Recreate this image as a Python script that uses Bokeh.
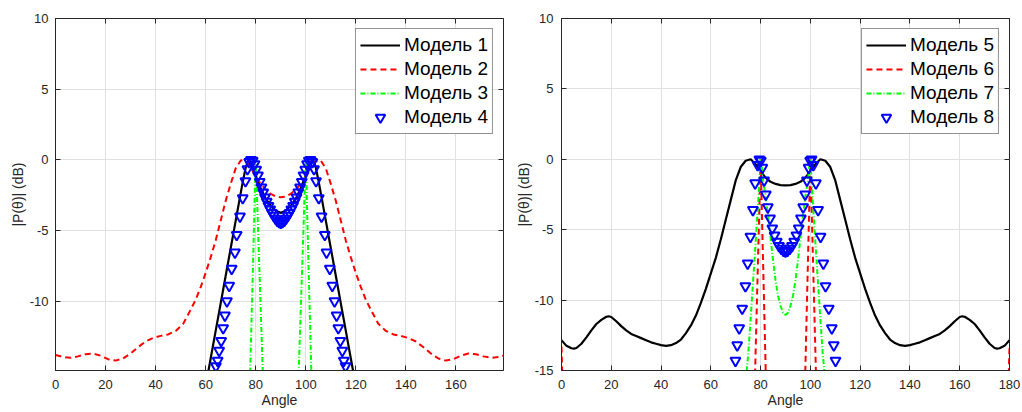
from bokeh.plotting import figure
from bokeh.layouts import row
from bokeh.models import FixedTicker, LinearAxis, Range1d, CustomJSTickFormatter
from bokeh.embed import file_html
from bokeh.resources import INLINE

FONT = "Liberation Sans"
AX = "#262626"

# ---------------- left panel data ----------------
m1_ang = [59, 60, 62, 64, 66, 68, 70, 72, 74, 75, 76, 77, 78, 79, 80, 82, 84, 86, 88, 90,
          92, 94, 96, 98, 100, 101, 102, 103, 104, 105, 106, 108, 110, 112, 114, 116, 118, 120, 121]
m1_db = [-17.0, -16.0, -14.05, -12.1, -10.15, -8.2, -6.25, -4.3, -2.35, -1.4, -0.55, -0.05, -0.15, -0.6,
         -1.1, -2.0, -2.75, -3.25, -3.6, -3.75, -3.6, -3.25, -2.75, -2.0, -1.1, -0.6, -0.15, -0.05,
         -0.55, -1.4, -2.35, -4.3, -6.25, -8.2, -10.15, -12.1, -14.05, -16.0, -17.0]

m2_ang = [0, 3, 6, 9, 12, 15, 18, 21, 24, 27, 30, 33, 36, 39, 42, 45, 48, 51,
          54, 56, 58, 60, 62, 64, 66, 68, 70, 72, 74, 75, 76, 78, 80, 82, 84, 86, 88,
          90,
          92, 94, 96, 98, 100, 102, 104, 105, 106, 108, 110, 112, 114, 116, 118, 120, 122, 124, 126,
          129, 132, 135, 138, 141, 144, 147, 150, 153, 156, 159, 162, 165, 168, 171, 174, 177, 180]
m2_db = [-13.8, -13.95, -14.0, -13.9, -13.75, -13.7, -13.85, -14.1, -14.2, -14.05, -13.7, -13.25,
         -12.85, -12.6, -12.45, -12.35, -12.1, -11.6,
         -10.6, -9.9, -9.0, -8.0, -6.9, -5.7, -4.3, -2.9, -1.7, -0.6, -0.05, 0.0, -0.1, -0.55,
         -1.15, -1.7, -2.1, -2.4, -2.6,
         -2.65,
         -2.6, -2.4, -2.1, -1.7, -1.15, -0.55, -0.1, 0.0, -0.05, -0.6, -1.7, -2.9, -4.3, -5.7,
         -6.9, -8.0, -9.0, -9.9, -10.6,
         -11.6, -12.1, -12.35, -12.45, -12.6, -12.85, -13.25, -13.7, -14.05, -14.2, -14.1, -13.85,
         -13.7, -13.75, -13.9, -14.0, -13.95, -13.8]

m3_ang = [77.0, 77.8, 78.3, 78.8, 79.3, 79.7, 80.0, 80.3, 80.8, 81.3, 81.8, 82.3, 82.9, 83.5, 90.0,
          96.5, 97.1, 97.7, 98.2, 98.7, 99.2, 99.7, 100.0, 100.3, 100.7, 101.2, 101.7, 102.2, 103.0]
m3_db = [-20.0, -14.9, -11.5, -8.2, -4.8, -1.8, 0.0, -1.3, -4.2, -6.9, -9.5, -12.2, -15.4, -18.5, -40.0,
         -18.5, -15.4, -12.2, -9.5, -6.9, -4.2, -1.3, 0.0, -1.8, -4.8, -8.2, -11.5, -14.9, -20.0]

m4_ang = [64.1, 64.8, 65.4, 66.2, 67.0, 67.7, 68.5, 69.4, 70.4, 71.7, 72.4, 73.7, 74.8, 75.9,
          76.7, 77.4, 78.1, 78.8, 79.5, 80.2, 80.9, 81.6, 82.3, 83.0, 83.7, 84.4, 85.1, 85.8, 86.5,
          87.2, 87.9, 88.6, 89.3, 90.0, 90.7, 91.4, 92.1, 92.8, 93.5, 94.2, 94.9, 95.6, 96.3, 97.0,
          97.7, 98.4, 99.1, 99.8, 100.5, 101.2, 101.9, 102.6, 103.3,
          104.1, 105.2, 106.3, 107.6, 108.3, 109.6, 110.6, 111.5, 112.3, 113.0, 113.8, 114.6, 115.2, 115.9]
m4_db = [-14.6, -14.2, -13.5, -12.8, -11.9, -11.0, -10.0, -8.9, -7.7, -6.55, -5.3, -4.0, -2.7, -1.5,
         -0.65, -0.15, 0.0, -0.05, -0.3, -0.7, -1.1, -1.55, -1.95, -2.3, -2.65, -2.95, -3.25, -3.5,
         -3.75, -3.95, -4.15, -4.3, -4.4, -4.45, -4.4, -4.3, -4.15, -3.95, -3.75, -3.5, -3.25, -2.95,
         -2.65, -2.3, -1.95, -1.55, -1.1, -0.7, -0.3, -0.05, 0.0, -0.15, -0.65,
         -1.5, -2.7, -4.0, -5.3, -6.55, -7.7, -8.9, -10.0, -11.0, -11.9, -12.8, -13.5, -14.2, -14.6]

# ---------------- right panel data ----------------
m5_ang = [0, 2, 4, 5, 6, 8, 10, 12, 14, 16, 18, 19, 20, 22, 24, 26, 28, 30, 32, 34, 36, 38, 40, 42,
          44, 46, 48, 50, 52, 54, 56, 58, 60, 62, 64, 66, 68, 70, 72, 74, 76, 78, 80, 82, 84, 86, 88,
          90,
          92, 94, 96, 98, 100, 102, 104, 106, 108, 110, 112, 114, 116, 118, 120, 122, 124, 126, 128,
          130, 132, 134, 136, 138, 140, 142, 144, 146, 148, 150, 152, 154, 156, 158, 160, 161, 162,
          164, 166, 168, 170, 172, 174, 175, 176, 178, 180]
m5_db = [-12.85, -13.25, -13.42, -13.45, -13.4, -13.1, -12.65, -12.15, -11.7, -11.4, -11.18, -11.15,
         -11.2, -11.5, -11.85, -12.15, -12.4, -12.55, -12.7, -12.85, -13.0, -13.1, -13.2, -13.25,
         -13.2, -13.05, -12.8, -12.35, -11.8, -11.1, -10.2, -9.2, -8.1, -7.0, -5.7, -4.3, -2.9, -1.5,
         -0.55, -0.1, 0.0, -0.35, -0.85, -1.3, -1.6, -1.75, -1.83,
         -1.85,
         -1.83, -1.75, -1.6, -1.3, -0.85, -0.35, 0.0, -0.1, -0.55, -1.5, -2.9, -4.3, -5.7, -7.0,
         -8.1, -9.2, -10.2, -11.1, -11.8, -12.35, -12.8, -13.05, -13.2, -13.25, -13.2, -13.1, -13.0,
         -12.85, -12.7, -12.55, -12.4, -12.15, -11.85, -11.5, -11.2, -11.15, -11.18, -11.4, -11.7,
         -12.15, -12.65, -13.1, -13.4, -13.45, -13.42, -13.25, -12.85]

m6_ang = [0.0, 0.4, 1.0, 40.0, 77.0, 77.8, 78.5, 79.2, 79.7, 80.0, 80.3, 80.8, 81.4, 82.0, 82.6, 90.0,
          97.4, 98.0, 98.6, 99.2, 99.7, 100.0, 100.3, 100.8, 101.5, 102.2, 103.0, 140.0, 179.0, 179.6, 180.0]
m6_db = [-13.3, -16.0, -20.0, -30.0, -20.0, -15.0, -10.2, -5.5, -2.0, 0.0, -2.2, -5.9, -10.3, -14.7,
         -19.0, -30.0, -19.0, -14.7, -10.3, -5.9, -2.2, 0.0, -2.0, -5.5, -10.2, -15.0, -20.0, -30.0,
         -20.0, -16.0, -13.3]

m7_ang = [72.0, 74.4, 75.0, 76.0, 77.0, 78.0, 79.0, 79.5, 80.0, 80.5, 81.0, 82.0, 83.0, 84.0, 85.0,
          86.0, 87.0, 88.0, 89.0, 90.0, 91.0, 92.0, 93.0, 94.0, 95.0, 96.0, 97.0, 98.0, 99.0, 99.5,
          100.0, 100.5, 101.0, 102.0, 103.0, 104.0, 105.0, 105.6, 108.0]
m7_db = [-25.0, -15.0, -13.9, -11.3, -8.6, -5.9, -3.1, -1.5, 0.0, -0.6, -1.5, -2.6, -4.0, -5.6, -7.2,
         -8.6, -9.7, -10.4, -10.9, -11.05, -10.9, -10.4, -9.7, -8.6, -7.2, -5.6, -4.0, -2.6, -1.5,
         -0.6, 0.0, -1.5, -3.1, -5.9, -8.6, -11.3, -13.9, -15.0, -25.0]

m8_ang = [69.9, 70.6, 71.4, 72.6, 73.9, 74.8, 75.9, 76.9, 77.8, 78.8, 79.5, 80.1, 80.7, 81.4, 82.1,
          82.9, 83.8, 84.7, 85.6, 86.5, 87.4, 88.3, 89.2, 90.0, 90.8, 91.7, 92.6, 93.5, 94.4, 95.3,
          96.2, 97.1, 97.9, 98.6, 99.3, 99.9, 100.5, 101.2, 102.2, 103.1, 104.1, 105.2, 106.1, 107.4,
          108.6, 109.4, 110.1]
m8_db = [-14.3, -13.2, -12.0, -10.6, -9.0, -7.4, -5.5, -3.6, -1.7, -0.4, 0.0, -0.1, -0.6, -1.5, -2.5,
         -3.4, -4.2, -4.9, -5.4, -5.85, -6.15, -6.35, -6.5, -6.55, -6.5, -6.35, -6.15, -5.85, -5.4,
         -4.9, -4.2, -3.4, -2.5, -1.5, -0.6, -0.1, 0.0, -0.4, -1.7, -3.6, -5.5, -7.4, -9.0, -10.6,
         -12.0, -13.2, -14.3]

left_labels = ["Модель 1", "Модель 2", "Модель 3", "Модель 4"]
right_labels = ["Модель 5", "Модель 6", "Модель 7", "Модель 8"]
left_xticks = [0, 20, 40, 60, 80, 100, 120, 140, 160]
right_xticks = [0, 20, 40, 60, 80, 100, 120, 140, 160, 180]
left_yticks = [-10, -5, 0, 5, 10]
right_yticks = [-15, -10, -5, 0, 5, 10]


def make_fig(width, border_left, border_right, border_bottom, x_end, y_start, xticks, yticks,
             ytick_standoff, ylab_standoff):
    p = figure(width=width, height=412, x_range=Range1d(0, x_end), y_range=Range1d(y_start, 10),
               output_backend="svg", toolbar_location=None,
               min_border_left=border_left, min_border_right=border_right, min_border_top=18,
               min_border_bottom=border_bottom,
               background_fill_color="white", border_fill_color="white",
               outline_line_color=AX, outline_line_width=1,
               x_axis_label="Angle", y_axis_label="|P(θ)| (dB)")
    p.xaxis.ticker = FixedTicker(ticks=xticks)
    p.yaxis.ticker = FixedTicker(ticks=yticks)
    p.xaxis.major_label_overrides = {t: str(t) for t in xticks}
    p.yaxis.major_label_overrides = {t: str(t) for t in yticks}
    for ax in (p.xaxis[0], p.yaxis[0]):
        ax.axis_line_color = AX
        ax.major_tick_line_color = AX
        ax.major_tick_in = 5
        ax.major_tick_out = 0
        ax.minor_tick_in = 0
        ax.minor_tick_out = 0
        ax.major_label_text_font = FONT
        ax.major_label_text_font_size = "13px"
        ax.major_label_text_color = AX
        ax.axis_label_text_font = FONT
        ax.axis_label_text_font_size = "14px"
        ax.axis_label_text_font_style = "normal"
        ax.axis_label_text_color = AX
    p.xaxis.major_label_standoff = 9
    p.xaxis.axis_label_standoff = 0
    p.yaxis.major_label_standoff = ytick_standoff
    p.yaxis.axis_label_standoff = ylab_standoff
    # mirrored ticks (box on)
    blank = CustomJSTickFormatter(code="return ''")
    for loc, tk in (("right", yticks), ("above", xticks)):
        a = LinearAxis(ticker=FixedTicker(ticks=tk), formatter=blank,
                       major_label_text_font_size="0px", major_label_standoff=0,
                       axis_line_color=None, major_tick_line_color=AX,
                       major_tick_in=5, major_tick_out=0, minor_tick_in=0, minor_tick_out=0)
        p.add_layout(a, loc)
    p.xgrid.ticker = FixedTicker(ticks=xticks)
    p.ygrid.ticker = FixedTicker(ticks=yticks)
    p.grid.grid_line_color = "#e0e0e0"
    p.grid.grid_line_width = 1
    return p


def style_legend(p):
    lg = p.legend[0]
    lg.location = "top_right"
    lg.margin = 10
    lg.padding = 4
    lg.spacing = 0
    lg.glyph_width = 40
    lg.glyph_height = 24
    lg.label_height = 24
    lg.label_standoff = 4
    lg.label_text_font = FONT
    lg.label_text_font_size = "19px"
    lg.label_text_color = "#000000"
    lg.border_line_color = AX
    lg.border_line_width = 1
    lg.background_fill_color = "white"
    lg.background_fill_alpha = 1.0


p1 = make_fig(508, 55, 5, 42, 179, -14.9, left_xticks, left_yticks, 7, 1)
p1.line(m1_ang, m1_db, line_color="black", line_width=2.2, legend_label=left_labels[0])
p1.line(m2_ang, m2_db, line_color="red", line_width=2, line_dash="6 4", legend_label=left_labels[1])
p1.line(m3_ang, m3_db, line_color="#00ff00", line_width=2, line_dash="5 2 1 2", legend_label=left_labels[2])
p1.scatter(m4_ang, m4_db, marker="inverted_triangle", size=10, fill_color=None, line_color="blue",
           line_width=2, legend_label=left_labels[3])
style_legend(p1)

p2 = make_fig(514, 53, 13, 41, 180, -15, right_xticks, right_yticks, 8, 0)
p2.line(m5_ang, m5_db, line_color="black", line_width=2.2, legend_label=right_labels[0])
p2.line(m6_ang, m6_db, line_color="red", line_width=2, line_dash="6 4", legend_label=right_labels[1])
p2.line(m7_ang, m7_db, line_color="#00ff00", line_width=2, line_dash="5 2 1 2", legend_label=right_labels[2])
p2.scatter(m8_ang, m8_db, marker="inverted_triangle", size=10, fill_color=None, line_color="blue",
           line_width=2, legend_label=right_labels[3])
style_legend(p2)

layout = row(p1, p2)
open("out.html", "w").write(file_html(layout, INLINE))
